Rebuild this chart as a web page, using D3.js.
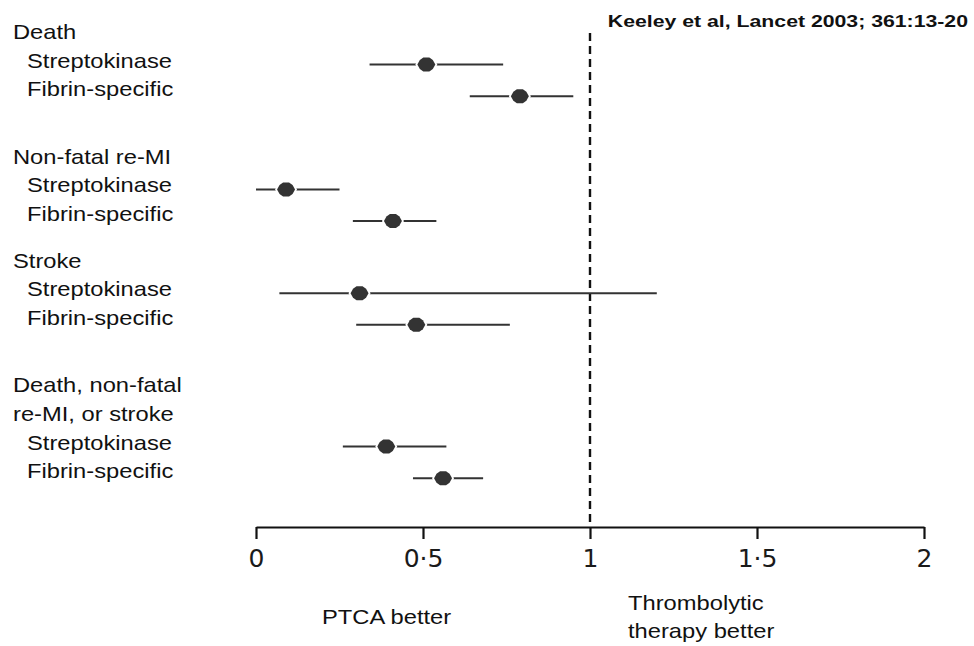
<!DOCTYPE html>
<html>
<head>
<meta charset="utf-8">
<script src="https://cdn.jsdelivr.net/npm/d3@7"></script>
<style>
  html,body{margin:0;padding:0;background:#fff;}
  svg{display:block;}
</style>
</head>
<body>
<div id="chart"></div>
<script>
// odds ratios (PTCA vs thrombolysis)
const groups=[["Death"],["Non-fatal re-MI"],["Stroke"],["Death, non-fatal","re-MI, or stroke"]];
const agents=["Streptokinase","Fibrin-specific"];
const est =[[0.51,0.79],[0.09,0.41],[0.31,0.48],[0.39,0.56]];
const low =[[0.34,0.64],[0.00,0.29],[0.07,0.30],[0.26,0.47]];
const high=[[0.74,0.95],[0.25,0.54],[1.20,0.76],[0.57,0.68]];
const ticks=[0,0.5,1,1.5,2];
const tickLabels=["0","0·5","1","1·5","2"];
const citation="Keeley et al, Lancet 2003; 361:13-20";

const W=974,H=646;
const LINE=28.6,SX=1.13;   // label line height, horizontal stretch of the scanned text
const GAPS=[39,18,39];     // extra space after each group (uneven in the original)
const FONT="'Liberation Sans',Arial,sans-serif";

const svg=d3.select("#chart").append("svg").attr("width",W).attr("height",H);

const x=d3.scaleLinear().domain([0,2]).range([256,924]);

// ── LAYOUT DES LIGNES ─────────────────────────────────────
// centre y of every text line, group by group
const lineY=[];
let yy=31;
groups.forEach((g,i)=>{
  const ls=[];
  for(let j=0;j<g.length+agents.length;j++){ls.push(yy);yy+=LINE;}
  lineY.push(ls);
  yy+=GAPS[i]||0;
});
const agentY=(i,k)=>lineY[i][groups[i].length+k];
const rowY=(i,k)=>agentY(i,k)+5+3*k;

// ── LIGNE DE RÉFÉRENCE ────────────────────────────────────
svg.append("line").attr("x1",x(1)).attr("x2",x(1)).attr("y1",33).attr("y2",527)
  .attr("stroke","#111").attr("stroke-width",2.4).attr("stroke-dasharray","8,5");

// ── AXE ───────────────────────────────────────────────────
const ax=svg.append("g").attr("transform","translate(0,527)")
  .call(d3.axisBottom(x).tickValues(ticks).tickSize(12).tickSizeOuter(0)
    .tickFormat((d,i)=>tickLabels[i]));
ax.select(".domain").attr("stroke","#111").attr("stroke-width",2.2);
ax.selectAll(".tick line").attr("stroke","#111").attr("stroke-width",2.2);
ax.selectAll(".tick text").attr("y",22).attr("font-family","'DejaVu Sans',sans-serif")
  .attr("font-size",25).attr("font-weight","normal").attr("fill","#1a1a1a");

// ── LABELS ────────────────────────────────────────────────
const lab=svg.append("g").attr("transform",`scale(${SX},1)`)
  .attr("font-family",FONT).attr("font-size",21).attr("fill","#111");
groups.forEach((g,i)=>{
  g.forEach((t,j)=>lab.append("text").attr("x",13/SX).attr("y",lineY[i][j]+8).text(t));
  agents.forEach((a,k)=>lab.append("text").attr("x",27/SX).attr("y",agentY(i,k)+8).text(a));
});

// ── INTERVALLES + ESTIMATIONS ─────────────────────────────
const rows=[];
groups.forEach((g,i)=>agents.forEach((a,k)=>rows.push({i,k,e:est[i][k],lo:low[i][k],hi:high[i][k]})));

const marker="M-9,0 L-6.5,-4.5 L-3,-7 L3,-7 L6.5,-4.5 L9,0 L6.5,4.5 L3,7 L-3,7 L-6.5,4.5 Z";

const r=svg.append("g").selectAll("g").data(rows).join("g")
  .attr("transform",d=>`translate(0,${rowY(d.i,d.k)})`);
r.append("line").attr("x1",d=>x(d.lo)).attr("x2",d=>x(d.hi))
  .attr("stroke","#333").attr("stroke-width",2);
r.append("path").attr("d",marker).attr("transform",d=>`translate(${x(d.e)},0)`)
  .attr("fill","#333").attr("stroke","#fff").attr("stroke-width",3.5).attr("paint-order","stroke");

// ── TEXTES ────────────────────────────────────────────────
const bt=svg.append("g").attr("transform",`scale(${SX},1)`)
  .attr("font-family",FONT).attr("font-size",21).attr("fill","#111");
bt.append("text").attr("x",322/SX).attr("y",624).text("PTCA better");
bt.append("text").attr("x",628/SX).attr("y",610).text("Thrombolytic");
bt.append("text").attr("x",628/SX).attr("y",638).text("therapy better");

svg.append("text").attr("transform","translate(968,27) scale(1.25,1)").attr("text-anchor","end")
  .attr("font-family",FONT).attr("font-size",17).attr("font-weight","bold").attr("fill","#111")
  .text(citation);
</script>
</body>
</html>
